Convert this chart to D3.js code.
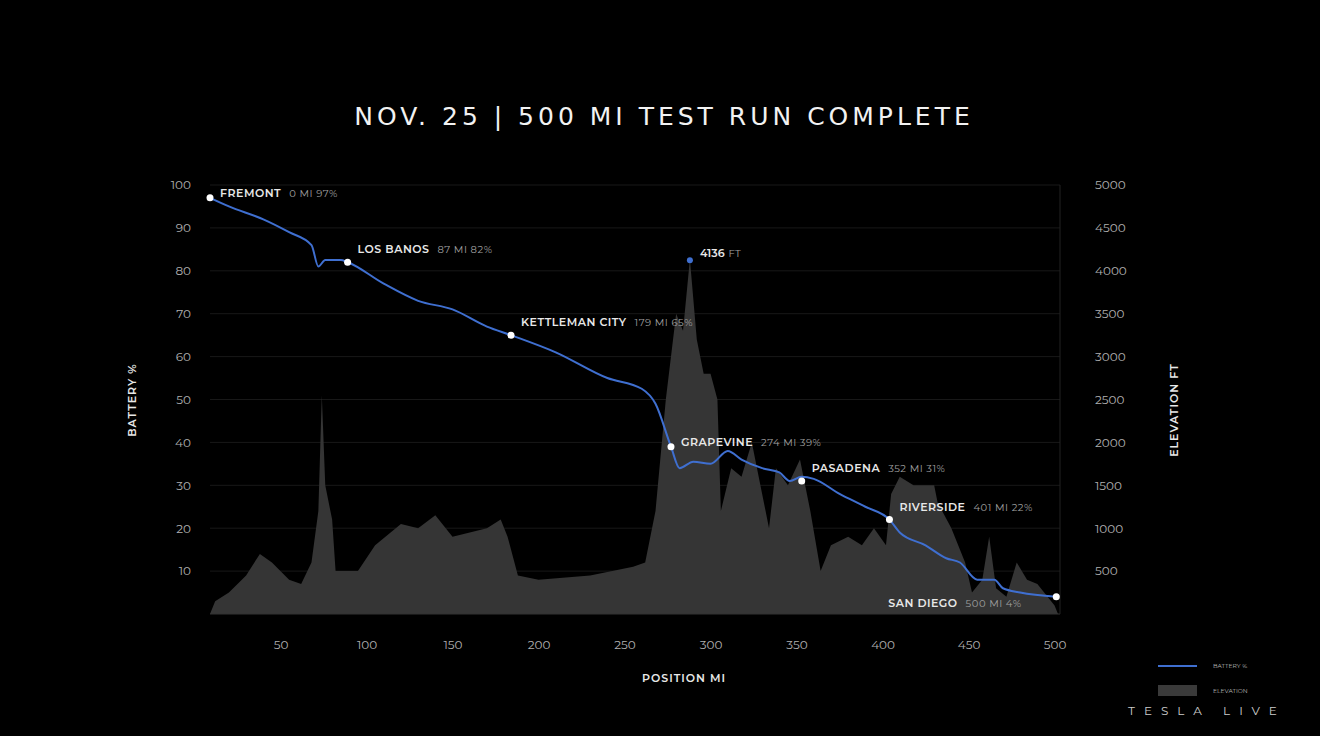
<!DOCTYPE html>
<html>
<head>
<meta charset="utf-8"/>
<script src="https://cdn.jsdelivr.net/npm/d3@7"></script>
<style>
  body { margin:0; background:#000; }
  text { font-family: 'Montserrat', 'Open Sans', sans-serif; }
  .tick text { fill:#b0b0b0; font-size:12px; }
  .lbl { fill:#e8e8e8; font-size:11px; font-weight:600; }
  .sub { fill:#a0a0a0; font-size:10px; font-weight:400; }
</style>
</head>
<body>
<div id="chart"></div>
<script>
// battery % along the route
var batMiles = [9,20,40,55,68,72,76,85,89,110,130,150,170,184,210,240,260,268,277,282,290,300,310,318,330,340,346,353,360,375,390,404,410,425,437,445,455,465,470,480,501];
var batPct   = [97,95,92,89,86,81,82.5,82.5,82,77,73,71,67,65,61,55,52.5,49,39,34,35.5,35,38,36,34,33,31,32,31.5,28,25,22,19,16,13,12,8,8,6,5,4];
// elevation (ft)
var elevMiles = [9,12,20,30,38,45,55,62,68,72,74,76,80,82,95,105,120,130,140,150,160,170,178,182,188,200,230,255,262,268,274,280,284,288,292,296,300,304,306,312,318,324,330,334,338,345,352,358,364,370,380,388,395,402,405,410,418,425,430,432,440,448,452,458,462,466,472,478,484,490,500,502];
var elevFt    = [0,150,250,450,700,600,400,350,600,1200,2550,1500,1100,500,500,800,1050,1000,1150,900,950,1000,1100,900,450,400,450,550,600,1200,2500,3500,3300,4136,3200,2800,2800,2500,1200,1700,1600,2000,1400,1000,1700,1500,1800,1200,500,800,900,800,1000,800,1400,1600,1500,1500,1500,1300,1000,600,250,400,900,300,200,600,400,350,100,0];
// annotated stops
var stopNames = ["FREMONT","LOS BANOS","KETTLEMAN CITY","GRAPEVINE","PASADENA","RIVERSIDE","SAN DIEGO"];
var stopMiles = [9,89,184,277,353,404,501];
var stopPct   = [97,82,65,39,31,22,4];
var stopText  = ["0 MI  97%","87 MI  82%","179 MI  65%","274 MI  39%","352 MI  31%","401 MI  22%","500 MI  4%"];
var xTicks = [50,100,150,200,250,300,350,400,450,500];
var yTicks = [10,20,30,40,50,60,70,80,90,100];
var eTicks = [500,1000,1500,2000,2500,3000,3500,4000,4500,5000];

var W = 1320, H = 736;
var svg = d3.select("#chart").append("svg").attr("width", W).attr("height", H);

var x = d3.scaleLinear().domain([9, 502]).range([210, 1058]);
var y = d3.scaleLinear().domain([0, 100]).range([614, 185]);
var ye = d3.scaleLinear().domain([0, 5000]).range([614, 185]);

// grid
svg.append("g").selectAll("line").data(yTicks).enter().append("line")
  .attr("x1", 210).attr("x2", 1060).attr("y1", d => y(d)).attr("y2", d => y(d))
  .attr("stroke", "#181818");

// elevation area
svg.append("path")
  .datum(elevMiles.map((m, i) => [m, elevFt[i]]))
  .attr("fill", "#353535")
  .attr("d", d3.area().x(d => x(d[0])).y0(614).y1(d => ye(d[1])));

// axes lines
svg.append("line").attr("x1", 210).attr("x2", 1060).attr("y1", 614).attr("y2", 614).attr("stroke", "#333");
svg.append("line").attr("x1", 1060).attr("x2", 1060).attr("y1", 185).attr("y2", 614).attr("stroke", "#222");

var ax = svg.append("g").attr("transform", "translate(0,637)")
  .call(d3.axisBottom(x).tickValues(xTicks).tickSize(0));
var ay = svg.append("g").attr("transform", "translate(194,0)")
  .call(d3.axisLeft(y).tickValues(yTicks).tickSize(0));
var ae = svg.append("g").attr("transform", "translate(1092,0)")
  .call(d3.axisRight(ye).tickValues(eTicks).tickSize(0).tickFormat(d3.format("d")));
[ax, ay, ae].forEach(a => a.select(".domain").remove());
ae.selectAll("text").attr("text-anchor", "start");

// axis titles
svg.append("text").attr("class", "lbl").attr("transform", "translate(136,400) rotate(-90)")
  .attr("text-anchor", "middle").style("letter-spacing", "1px").text("BATTERY %");
svg.append("text").attr("class", "lbl").attr("transform", "translate(1178,410) rotate(-90)")
  .attr("text-anchor", "middle").style("letter-spacing", "1px").text("ELEVATION FT");
svg.append("text").attr("class", "lbl").attr("x", 684).attr("y", 682)
  .attr("text-anchor", "middle").style("letter-spacing", "1px").text("POSITION  MI");

// battery line
svg.append("path")
  .datum(batMiles.map((m, i) => [m, batPct[i]]))
  .attr("fill", "none").attr("stroke", "#3f6fd0").attr("stroke-width", 2)
  .attr("d", d3.line().curve(d3.curveMonotoneX).x(d => x(d[0])).y(d => y(d[1])));

// stops
var g = svg.append("g").selectAll("g").data(stopNames).enter().append("g")
  .attr("transform", (d, i) => `translate(${x(stopMiles[i])},${y(stopPct[i])})`);
g.append("circle").attr("r", 3.5).attr("fill", "#fff");
g.append("text").attr("class", "lbl").style("letter-spacing", "0.5px")
  .attr("x", (d, i) => i == 6 ? -168 : 10)
  .attr("y", (d, i) => i == 6 ? 10 : (i == 0 || i == 3 ? -1 : -9))
  .each(function(d, i) {
    d3.select(this).append("tspan").text(d);
    d3.select(this).append("tspan").attr("class", "sub").attr("dx", 8).text(stopText[i]);
  });

// peak
svg.append("circle").attr("cx", x(288)).attr("cy", ye(4136) + 1).attr("r", 3).attr("fill", "#3f6fd0");
svg.append("text").attr("class", "lbl").attr("x", x(288) + 10).attr("y", ye(4136) - 2)
  .text("4136").append("tspan").attr("class", "sub").attr("dx", 4).text("FT");

// title
svg.append("text").attr("x", 664).attr("y", 125).attr("text-anchor", "middle")
  .attr("fill", "#f2f2f2").style("font-size", "25px").style("font-weight", "400")
  .style("letter-spacing", "4px").style("font-family", "'DejaVu Sans', sans-serif")
  .text("NOV. 25 | 500 MI TEST RUN COMPLETE");

// legend
svg.append("line").attr("x1", 1158).attr("x2", 1197).attr("y1", 666).attr("y2", 666).attr("stroke", "#3f6fd0").attr("stroke-width", 2);
svg.append("text").attr("x", 1213).attr("y", 668).attr("fill", "#bbb").style("font-size", "6px").text("BATTERY %");
svg.append("rect").attr("x", 1158).attr("y", 685).attr("width", 39).attr("height", 11).attr("fill", "#3a3a3a");
svg.append("text").attr("x", 1213).attr("y", 693).attr("fill", "#bbb").style("font-size", "6px").text("ELEVATION");
svg.append("text").attr("x", 1128).attr("y", 715).attr("fill", "#ccc").style("font-size", "12px")
  .style("letter-spacing", "9px").text("TESLA LIVE");
</script>
</body>
</html>
